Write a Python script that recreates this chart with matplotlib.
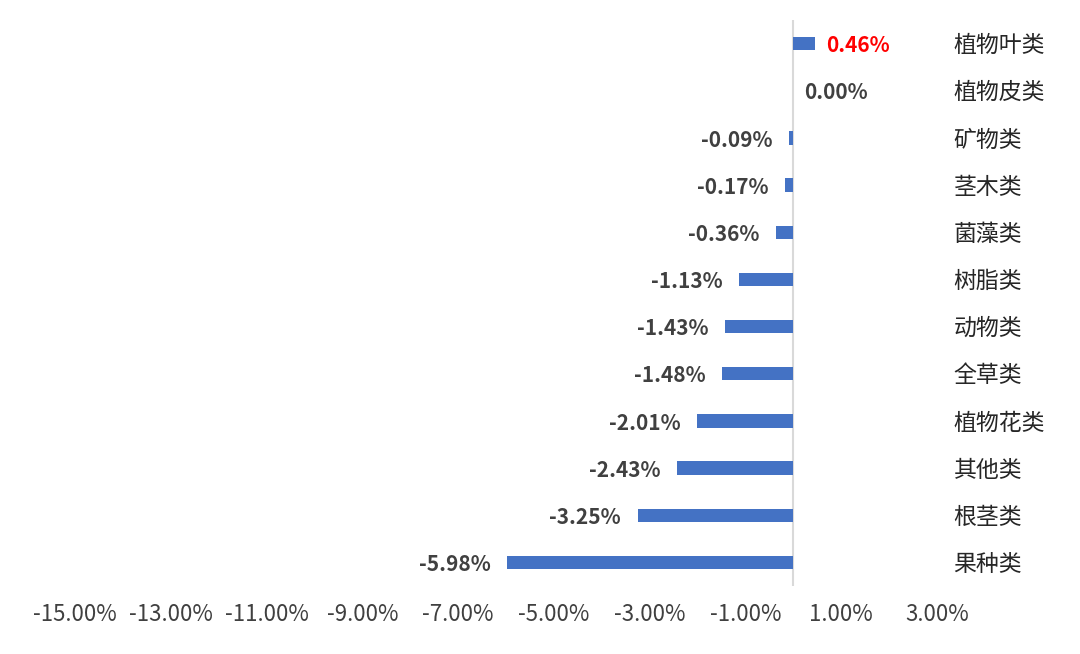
import matplotlib
matplotlib.use('Agg')
import matplotlib.pyplot as plt
import matplotlib.transforms as mtransforms

plt.rcParams['font.family'] = ['Noto Sans CJK SC', 'DejaVu Sans']

# 数据（从上到下）
categories = ['植物叶类', '植物皮类', '矿物类', '茎木类', '菌藻类', '树脂类',
              '动物类', '全草类', '植物花类', '其他类', '根茎类', '果种类']
changes = [0.46, 0.00, -0.09, -0.17, -0.36, -1.13,
           -1.43, -1.48, -2.01, -2.43, -3.25, -5.98]
xticks = [-15, -13, -11, -9, -7, -5, -3, -1, 1, 3]

fig = plt.figure(figsize=(10.8, 6.54), dpi=100)
ax = fig.add_axes([75 / 1080, 1 - 586 / 654, 862 / 1080, 566 / 654])

ypos = list(range(len(categories)))
ax.barh(ypos, changes, height=0.28, color='#4472C4', zorder=2)
ax.set_ylim(len(categories) - 0.5, -0.5)
ax.set_xlim(-15, 3)

ax.axvline(0, color='#D9D9D9', lw=1.5, zorder=1)

# 数据标签
for y, v in zip(ypos, changes):
    if v > 0:
        ax.annotate('%.2f%%' % v, (v, y), xytext=(8, -1.5), textcoords='offset points',
                    ha='left', va='center', fontsize=15, fontweight='bold', color='#FF0000')
    elif v == 0:
        ax.annotate('%.2f%%' % v, (v, y), xytext=(8, -1.5), textcoords='offset points',
                    ha='left', va='center', fontsize=15, fontweight='bold', color='#404040')
    else:
        ax.annotate('%.2f%%' % v, (v, y), xytext=(-12, -1.5), textcoords='offset points',
                    ha='right', va='center', fontsize=15, fontweight='bold', color='#404040')

# 右侧类别
for y, c in zip(ypos, categories):
    ax.annotate(c, (3, y), xytext=(12, -1.5), textcoords='offset points',
                ha='left', va='center', fontsize=16.5, color='#262626',
                annotation_clip=False)

ax.set_xticks(xticks)
ax.set_xticklabels(['%.2f%%' % t for t in xticks], fontsize=16, color='#404040')
ax.tick_params(axis='x', length=0, pad=12)
ax.set_yticks([])
for s in ax.spines.values():
    s.set_visible(False)

fig.savefig('out.png', dpi=100)
